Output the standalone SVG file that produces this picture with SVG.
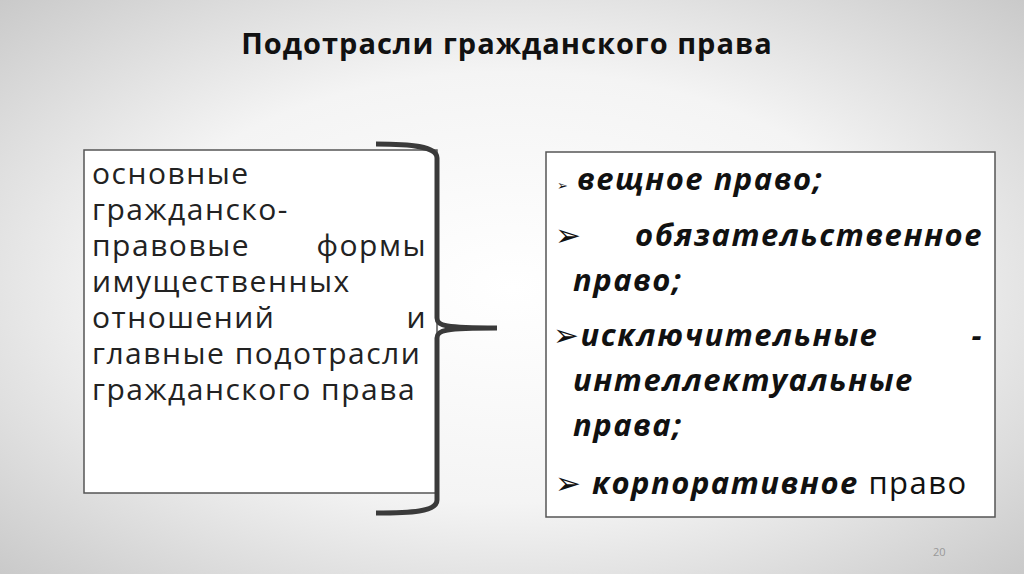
<svg xmlns="http://www.w3.org/2000/svg" width="1024" height="574" viewBox="0 0 1024 574">
<defs>
<radialGradient id="bg" cx="50%" cy="50%" r="75%">
<stop offset="0" stop-color="#ffffff"/><stop offset="0.5" stop-color="#f4f4f4"/><stop offset="1" stop-color="#c4c4c4"/>
</radialGradient>
<style>
.l{font-family:"Open Sans","DejaVu Sans",sans-serif;font-size:30px;letter-spacing:1.5px;fill:#222}
.r{font-family:"Open Sans","DejaVu Sans",sans-serif;font-size:31px;letter-spacing:1.5px;font-weight:bold;font-style:italic;fill:#111}
.bx{fill:#fff;stroke:#555;stroke-width:1.5}
</style>
</defs>
<rect width="1024" height="574" fill="url(#bg)"/>
<text x="507" y="54" text-anchor="middle" font-family="Open Sans, sans-serif" font-weight="bold" font-size="29" letter-spacing="1" fill="#111">Подотрасли гражданского права</text>
<g id="left">
<rect class="bx" x="84" y="150" width="353" height="343"/>
<text class="l" x="92" y="184">основные</text>
<text class="l" x="92" y="220">гражданско-</text>
<text class="l" x="92" y="256">правовые</text><text class="l" x="427" y="256" text-anchor="end">формы</text>
<text class="l" x="92" y="292">имущественных</text>
<text class="l" x="92" y="328">отношений</text><text class="l" x="427" y="328" text-anchor="end">и</text>
<text class="l" x="92" y="364">главные подотрасли</text>
<text class="l" x="92" y="400">гражданского права</text>
</g>
<g id="connectors">
<path d="M376,144 C410,144 437,146 437,158 L437,318 C437,326 445,328 497,328 C445,328 437,330 437,338 L437,500 C437,512 410,513 376,513" fill="none" stroke="#3a3a3a" stroke-width="5"/>
</g>
<g id="right">
<rect class="bx" x="546" y="152" width="449" height="365"/>
<text x="557" y="190" style="font-family:'DejaVu Sans',sans-serif;font-size:13px;font-weight:bold;fill:#111">➢</text>
<text class="r" x="577" y="190">вещное право;</text>
<text class="r" x="555" y="246">➢</text>
<text class="r" x="983" y="246" text-anchor="end">обязательственное</text>
<text class="r" x="573" y="291">право;</text>
<text class="r" x="553" y="346">➢исключительные</text>
<text class="r" x="983" y="346" text-anchor="end">-</text>
<text class="r" x="573" y="391">интеллектуальные</text>
<text class="r" x="573" y="436">права;</text>
<text class="r" x="555" y="494">➢ корпоративное <tspan font-weight="normal" font-style="normal">право</tspan></text>
</g>
<text x="933" y="556" font-family="Open Sans, sans-serif" font-size="11" fill="#999">20</text>
</svg>
